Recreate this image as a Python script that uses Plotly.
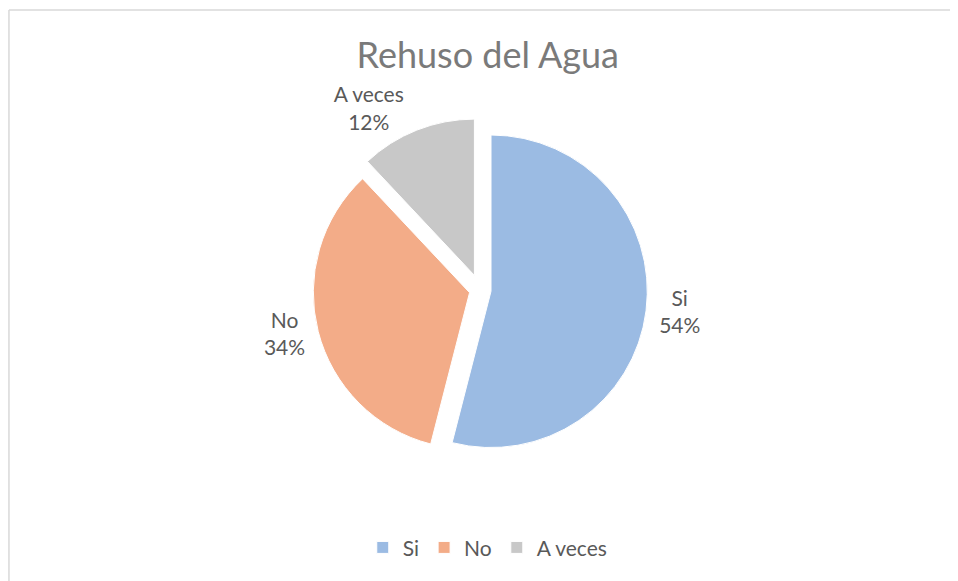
import plotly.graph_objects as go

labels = ["Si", "No", "A veces"]
values = [54, 34, 12]
colors = ["#9BBBE3", "#F3AC88", "#C8C8C8"]
pulls = [0.07, 0.07, 0.1]

fig = go.Figure()
fig.add_trace(go.Pie(
    labels=labels, values=values, sort=False, direction="clockwise", rotation=0,
    pull=pulls,
    marker=dict(colors=colors, line=dict(color="#FFFFFF", width=1)),
    texttemplate="%{label}<br>%{percent:.0%}",
    textposition="outside",
    textfont=dict(family="Lato, Open Sans, sans-serif", size=21, color="#595959"),
    domain=dict(x=[0.187, 0.807], y=[0.208, 0.808]),
    showlegend=True,
    automargin=False,
    hoverinfo="label+percent",
))

fig.update_layout(
    width=950, height=573,
    margin=dict(l=0, r=0, t=0, b=0, autoexpand=False),
    paper_bgcolor="#FFFFFF",
    title=dict(text="Rehuso del Agua", x=0.505, xanchor="center", y=0.918, yanchor="middle",
               automargin=False,
               font=dict(family="Lato, Open Sans, sans-serif", size=36, color="#7A7A7A")),
    legend=dict(orientation="h", x=0.505, xanchor="center", y=0.058, yanchor="middle",
                font=dict(family="Lato, Open Sans, sans-serif", size=21, color="#595959"),
                traceorder="normal"),
    shapes=[
        dict(type="line", xref="paper", yref="paper", x0=0.001, x1=1.0, y0=0.9965, y1=0.9965,
             line=dict(color="#D9D9D9", width=1.5)),
        dict(type="line", xref="paper", yref="paper", x0=0.001, x1=0.001, y0=0.0, y1=0.9965,
             line=dict(color="#D9D9D9", width=1.5)),
    ],
)

fig.write_html("out.html")
